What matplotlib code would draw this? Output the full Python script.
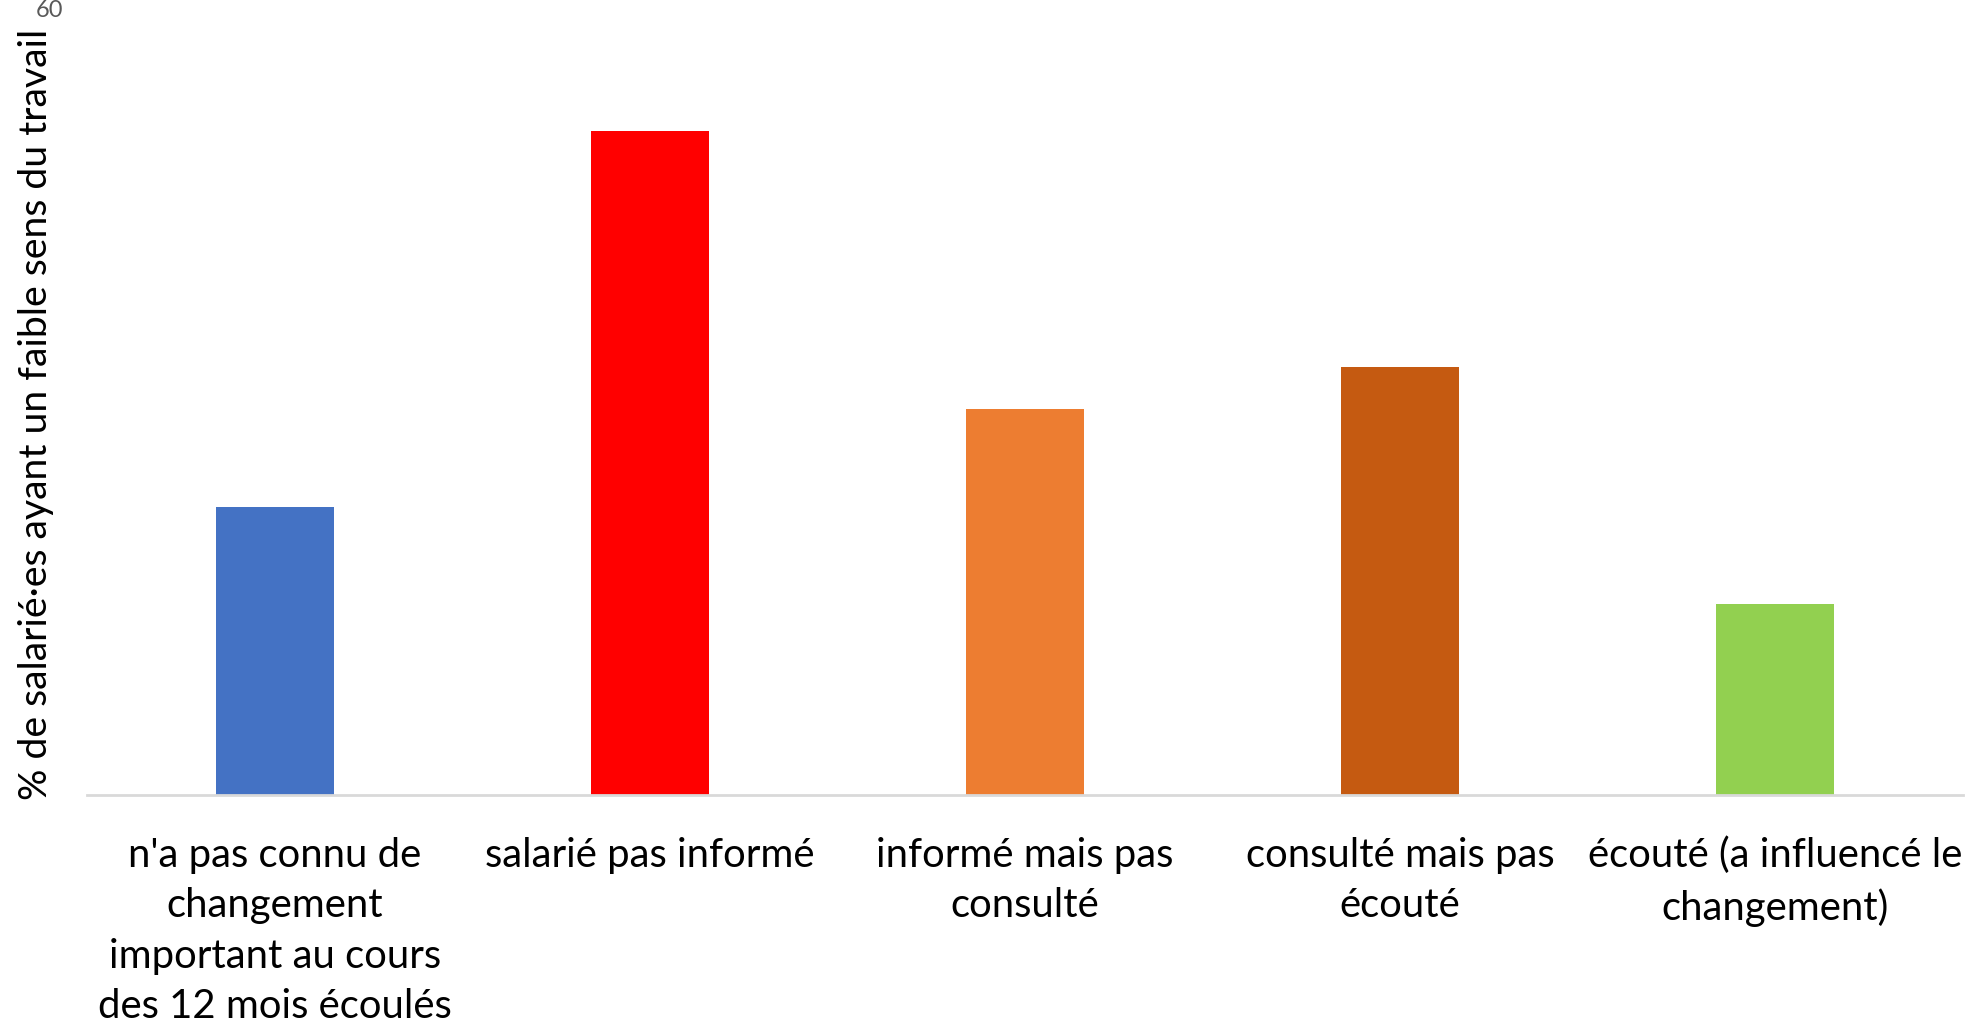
import matplotlib
matplotlib.use("Agg")
import matplotlib.pyplot as plt
import matplotlib.transforms as mtransforms

categories = [
    "n'a pas connu de\nchangement\nimportant au cours\ndes 12 mois écoulés",
    "salarié pas informé",
    "informé mais pas\nconsulté",
    "consulté mais pas\nécouté",
    "écouté (a influencé le\nchangement)",
]
values = [22.1, 50.9, 29.6, 32.8, 14.6]
colors = ["#4472C4", "#FF0000", "#ED7D31", "#C55A11", "#92D050"]
y_label = "% de salarié·es ayant un faible sens du travail"

plt.rcParams["font.family"] = ["Lato", "DejaVu Sans"]

fig = plt.figure(figsize=(19.8, 10.25), dpi=100)
ax = fig.add_axes([87 / 1980, 1 - 795 / 1025, 1876 / 1980, 783 / 1025])

x = range(len(categories))
ax.bar(x, values, width=0.315, color=colors, zorder=2)

ax.set_xlim(-0.5, len(categories) - 0.5)
ax.set_ylim(0, 60)
ax.set_yticks([60])
ax.tick_params(axis="y", length=0, labelsize=17, labelcolor="#595959", pad=17)
# the top label is partly cut by the figure edge in the original
shift = mtransforms.ScaledTranslation(0, 4 / 100, fig.dpi_scale_trans)
for lbl in ax.get_yticklabels():
    lbl.set_transform(lbl.get_transform() + shift)
ax.set_xticks(list(x))
ax.set_xticklabels(categories, fontsize=28.8, color="black", linespacing=1.45)
ax.tick_params(axis="x", length=0, pad=30)

for side in ["top", "right", "left"]:
    ax.spines[side].set_visible(False)
ax.spines["bottom"].set_color("#D9D9D9")
ax.spines["bottom"].set_linewidth(2)

fig.text(36 / 1980, 1 - 414 / 1025, y_label, rotation=90, ha="center",
         va="center", fontsize=28.3, color="black")

fig.savefig("out.png", dpi=100)
